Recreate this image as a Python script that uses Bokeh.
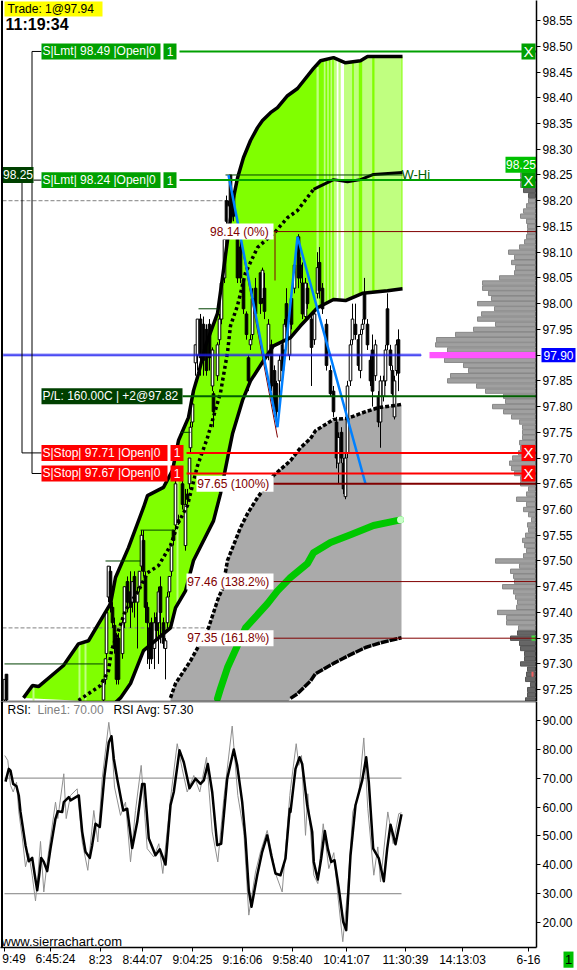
from bokeh.plotting import figure
from bokeh.layouts import column
from bokeh.models import Label, Span, FixedTicker, NumeralTickFormatter, LinearAxis, Range1d
from bokeh.core.properties import value
from bokeh.embed import file_html
from bokeh.resources import INLINE

# ---------- price panel data ----------
bar_x = [4,6,103,105,106,108,110,112,114,116,118,122,124,127,130,132,134,137,139,141,143,145,147,149,151,154,156,158,160,163,165,167,169,171,173,175,178,182,185,187,189,190,192,195,197,200,203,206,209,212,213,217,219,221,224,226,228,230,233,237,240,243,246,248,250,252,255,260,262,264,268,271,274,276,279,282,284,286,289,291,294,298,300,302,305,307,311,314,317,319,322,326,330,333,336,338,341,343,345,347,350,352,355,358,360,362,364,367,370,372,375,378,380,383,385,387,390,392,394,396,398]
bar_open = [97.23,97.28,97.23,97.27,97.32,97.43,97.48,97.41,97.375,97.35,97.35,97.32,97.38,97.46,97.44,97.42,97.47,97.42,97.45,97.49,97.54,97.47,97.41,97.37,97.38,97.33,97.39,97.38,97.45,97.38,97.33,97.38,97.44,97.48,97.56,97.57,97.58,97.65,97.53,97.63,97.65,97.72,97.77,97.885,97.90,97.97,97.96,97.95,97.96,97.84,97.825,97.86,97.93,97.97,98.05,98.20,98.155,98.25,98.21,98.13,98.11,98.045,97.98,97.895,97.92,97.94,98.03,98.06,98.01,98.03,97.90,97.92,97.87,97.845,97.85,97.92,97.91,98.00,97.90,98.01,98.03,98.13,98.075,98.04,97.975,98.03,97.97,97.93,98.02,98.08,98.03,97.96,97.87,97.83,97.77,97.69,97.75,97.69,97.625,97.71,97.85,97.93,97.96,97.93,97.87,97.95,98.02,97.96,97.89,97.91,97.86,97.82,97.77,97.82,97.85,97.99,97.91,97.87,97.78,97.87,97.93]
bar_close = [97.27,97.23,97.27,97.31,97.40,97.49,97.41,97.38,97.33,97.27,97.27,97.38,97.45,97.42,97.41,97.46,97.42,97.44,97.48,97.55,97.48,97.41,97.38,97.31,97.31,97.38,97.365,97.44,97.40,97.34,97.345,97.43,97.47,97.53,97.54,97.65,97.575,97.61,97.61,97.62,97.70,97.76,97.805,97.92,97.97,97.895,97.89,97.87,97.895,97.91,97.79,97.92,97.97,98.04,98.125,98.16,98.19,98.16,98.17,98.05,98.05,97.99,97.94,97.85,97.93,98.01,97.98,98.00,98.065,97.985,97.96,97.84,97.80,97.79,97.89,97.87,97.96,97.955,97.965,97.96,98.075,98.05,98.05,97.98,98.04,98.00,97.915,97.98,98.07,98.025,97.99,97.88,97.825,97.79,97.70,97.74,97.70,97.64,97.70,97.84,97.92,97.97,97.94,97.88,97.94,97.96,97.97,97.92,97.85,97.83,97.92,97.77,97.85,97.85,97.91,97.92,97.88,97.825,97.85,97.92,97.865]
bar_high = [97.27,97.28,97.27,97.31,97.40,97.49,97.49,97.42,97.39,97.36,97.36,97.39,97.45,97.47,97.48,97.46,97.48,97.45,97.48,97.56,97.56,97.48,97.42,97.38,97.39,97.40,97.40,97.45,97.47,97.39,97.35,97.44,97.47,97.53,97.56,97.66,97.59,97.66,97.64,97.64,97.70,97.77,97.81,97.92,97.97,97.98,97.975,97.96,97.97,97.915,97.83,97.925,97.98,98.04,98.13,98.21,98.20,98.25,98.215,98.14,98.12,98.05,97.985,97.90,97.94,98.03,98.05,98.06,98.07,98.06,97.97,97.93,97.88,97.85,97.90,97.93,97.97,98.03,97.97,98.02,98.08,98.135,98.09,98.08,98.05,98.04,97.98,97.985,98.10,98.11,98.04,97.97,97.88,97.84,97.78,97.75,97.76,97.70,97.71,97.85,97.93,98.00,98.00,97.94,97.95,97.97,98.05,97.97,97.90,97.94,97.93,97.83,97.86,97.86,97.92,98.02,97.92,97.88,97.86,97.93,97.95]
bar_low = [97.22,97.22,97.22,97.26,97.31,97.42,97.40,97.37,97.32,97.26,97.26,97.31,97.37,97.40,97.37,97.40,97.39,97.33,97.44,97.48,97.47,97.38,97.30,97.29,97.30,97.29,97.35,97.30,97.34,97.33,97.27,97.37,97.43,97.47,97.53,97.56,97.57,97.60,97.52,97.61,97.64,97.71,97.76,97.86,97.87,97.86,97.86,97.86,97.87,97.83,97.76,97.85,97.92,97.96,98.04,98.15,98.15,98.15,98.16,98.04,98.04,97.98,97.93,97.83,97.91,97.93,97.97,97.98,98.00,97.97,97.89,97.83,97.78,97.76,97.79,97.85,97.90,97.94,97.89,97.95,98.02,98.03,98.04,97.97,97.97,97.99,97.84,97.92,98.01,98.01,97.98,97.87,97.82,97.78,97.68,97.65,97.69,97.63,97.62,97.70,97.84,97.92,97.93,97.87,97.855,97.94,97.96,97.91,97.84,97.80,97.85,97.76,97.72,97.81,97.84,97.91,97.87,97.82,97.775,97.86,97.83]

upper_x = [23,32,38,63,78,88,110,115,128,143,147,163,172,178,188,193,198,205,217,222,227,233,237,243,250,257,262,270,277,287,297,313,320,333,345,360,367,402]
upper_y = [97.234,97.258,97.256,97.297,97.339,97.345,97.417,97.468,97.526,97.604,97.627,97.643,97.676,97.734,97.779,97.831,97.864,97.918,97.981,98.051,98.123,98.206,98.244,98.284,98.317,98.342,98.356,98.371,98.381,98.404,98.418,98.457,98.472,98.478,98.468,98.472,98.480,98.480]
lower_x = [115,120,130,143,170,175,185,193,213,220,228,232,242,250,263,273,290,300,317,333,345,362,387,402]
lower_y = [97.225,97.234,97.262,97.326,97.370,97.409,97.442,97.501,97.578,97.631,97.709,97.747,97.812,97.850,97.889,97.918,97.934,97.957,97.992,98.008,98.006,98.020,98.025,98.029]
center_x = [78,100,108,111,125,138,143,147,158,170,178,187,197,207,220,227,230,237,245,257,275,287,297,313,333,347,360,373,402]
center_y = [97.229,97.258,97.287,97.326,97.404,97.442,97.462,97.477,97.491,97.530,97.575,97.608,97.685,97.740,97.827,97.905,97.957,97.996,98.060,98.109,98.140,98.167,98.181,98.222,98.241,98.237,98.241,98.251,98.255]
gray_up_x = [170,175,190,208,218,222,227,240,247,257,273,290,300,310,315,333,347,365,378,401]
gray_up_y = [97.234,97.262,97.306,97.370,97.429,97.446,97.501,97.565,97.592,97.623,97.666,97.695,97.720,97.738,97.753,97.775,97.777,97.790,97.798,97.804]
gray_lo_x = [170,285,290,297,310,315,333,348,365,380,401]
gray_lo_y = [97.22,97.22,97.233,97.242,97.267,97.281,97.301,97.316,97.332,97.341,97.351]
mid_x = [217,220,227,245,267,277,290,307,313,330,350,373,400]
mid_y = [97.233,97.252,97.293,97.370,97.417,97.442,97.468,97.495,97.516,97.536,97.551,97.569,97.580]
swing_x = [228,277,297,365]
swing_y = [98.25,97.76,98.13,97.65]

stripe_l = [32,78,84,176,316,323.3,326.7,330,333.3,336,338.3,340,344,353.3,361.7,374]
stripe_r = [34,80,86,178,318.3,325,328.3,331.7,336,338.3,340,344,351.7,358.3,371.7,401]
stripe_t = [97.256,97.339,97.345,97.67,98.46,98.47,98.475,98.477,98.478,98.476,98.472,98.468,98.466,98.47,98.478,98.48]
stripe_b = [97.229,97.229,97.229,97.42,97.992,98.0,98.005,98.006,98.008,98.006,98.006,98.006,98.008,98.014,98.022,98.027]
stripe_c = ["#c0ff80","#c0ff80","#c0ff80","#c0ff80","#c0ff80","#c0ff80","#c0ff80","#c0ff80","#c0ff80","white","#c0ff80","white","#c0ff80","#c0ff80","#c0ff80","#c0ff80"]

# weekly/pivot step lines
step_x0 = [4,105,140,180,198,225]
step_x1 = [103,140,173,190,217,402]
step_p = [97.30,97.50,97.56,97.75,97.99,98.25]

vol_levels = [round(98.25 - i * 0.01, 2) for i in range(103)]
vol_sizes = [15,15,15,12,7,7,9,12,15,9,8,8,9,11,16,27,21,24,20,21,36,53,53,47,44,58,41,54,58,40,62,80,99,100,88,
             90,91,72,67,85,88,59,50,32,30,43,32,24,16,13,13,13,16,15,17,23,26,24,21,15,15,7,9,19,9,12,7,4,8,7,10,13,11,9,12,40,16,25,22,21,33,22,20,18,19,38,29,29,17,
             18,25,16,15,11,11,15,8,9,10,5,8,8,10]

price_ticks = [97.25,97.30,97.35,97.40,97.45,97.50,97.55,97.60,97.65,97.70,97.75,97.80,97.85,97.90,97.95,98.00,98.05,98.10,98.15,98.20,98.25,98.30,98.35,98.40,98.45,98.50,98.55]

# ---------- RSI panel data ----------
rsi_x = [4.3,7.3,10,12.7,16,18.3,21.7,25,28.3,31.7,35,37.7,40,43.3,46.7,55,57.3,63.3,65.7,70,76.7,81.7,87.3,93.3,97.3,101.7,108.3,111.7,114,120,125,130,135,140.7,146.7,153.3,158.3,162.3,170,176.7,181.7,186.7,193.3,199.3,206,211.7,217.3,223.3,231.7,237.3,243.3,248.3,255,260,266.7,271.7,275,281.7,289.3,
         290,295.7,298.3,301,305,307.3,311.7,313.3,317.3,322.7,328.3,333.3,337.3,342.3,347.3,352.3,358.3,363.3,367.3,373.3,377.3,380,387.3,392.7,398.3,401]
rsi_y = [77.8,76.1,67.5,65.2,68.6,58.3,49.6,39.3,43.9,36.4,27.5,37.5,48.1,30.6,41.0,61.7,56.0,71.5,56.0,64.0,66.3,47.9,38.1,58.8,47.9,69.8,89.3,79.6,66.9,57.1,61.7,41.0,58.8,74.4,45.6,42.7,47.3,37.0,62.9,81.9,73.2,65.2,70.9,65.2,77.2,51.4,41.0,62.9,88.0,64.0,51.4,22.6,37.5,44.5,51.9,43.3,37.0,30.6,64.0,
         66.3,81.9,74.4,77.8,50.2,64.6,43.3,36.4,33.5,54.2,38.7,44.2,29.5,13.4,31.8,58.3,64.6,83.9,59.4,36.4,46.2,34.1,58.3,47.3,57.7,58.0]
avg_x = [5,8.3,10,12.7,16,18.3,20,25,28.3,31.7,34.3,36.7,38.7,40.7,43.3,46.7,50,55,57.3,61.7,63.3,68.3,70,78.3,81.7,85,89.3,91.7,95,99.3,104,108.3,111,113.3,116.7,122.7,126.7,131.7,136.7,141.7,144,148.3,155,159.3,165,170,173.3,179,183.3,189,195,200,203.3,207.3,211.7,216.7,220.7,226.7,233.3,236.7,241.7,245,248.3,251,256.7,261.7,266.7,270.7,275,280,285,289.3,
         290,295,299,301.7,306.7,311.7,313.3,317.3,320.7,324.3,327.3,330.7,334,338.3,342.7,345.7,350,355,361.7,365.7,368.3,372.7,378.3,383.3,386.7,390,395,401]
avg_y = [68.8,73.2,72.6,68.0,67.2,64.0,58.3,46.8,41.2,42.4,36.4,31.2,36.4,42.4,41.0,37.8,45.6,56.0,58.5,58.3,61.7,63.4,62.3,64.0,51.4,44.5,42.4,46.8,54.2,53.1,70.9,82.4,84.5,76.7,69.8,58.8,59.4,45.8,54.8,68.0,68.0,49.1,43.3,45.4,40.1,60.6,65.2,79.6,75.5,66.5,69.8,68.0,69.2,74.9,65.2,46.8,47.3,69.8,79.9,74.4,61.7,49.1,31.2,25.5,36.4,44.5,50.2,43.3,37.0,36.4,42.2,59.4,
         58.3,73.2,77.2,74.9,60.6,51.4,41.0,34.9,42.2,51.7,45.6,41.0,41.6,31.8,20.3,17.4,43.3,60.6,69.2,77.2,68.6,45.6,42.2,34.3,45.6,53.9,47.1,57.5]
rsi_ticks = [20,30,40,50,60,70,80,90]
rsi_levels = [70,30]

# time axis slots and labels
time_ticks = [4,50,100,142,192,242,292,346,405,462,528]
time_labels = ["9:49","6:45:24","8:23","8:44:07","9:04:25","9:16:06","9:58:40","10:41:07","11:30:39","14:13:03","6-16"]

assert len(bar_x)==len(bar_open)==len(bar_close)==len(bar_high)==len(bar_low), (len(bar_x),len(bar_open),len(bar_close),len(bar_high),len(bar_low))
assert len(upper_x)==len(upper_y) and len(lower_x)==len(lower_y) and len(center_x)==len(center_y)
assert len(gray_up_x)==len(gray_up_y) and len(gray_lo_x)==len(gray_lo_y) and len(mid_x)==len(mid_y)
assert len(rsi_x)==len(rsi_y), (len(rsi_x),len(rsi_y))
assert len(avg_x)==len(avg_y), (len(avg_x),len(avg_y))
assert len(vol_levels)==len(vol_sizes), len(vol_sizes)

FONT = "Liberation Sans"
X0, X1 = 0, 536
W = 577

def make_fig(h, yr, border_bottom=0):
    f = figure(width=W, height=h, x_range=Range1d(X0, X1), y_range=Range1d(*yr),
               output_backend="svg", toolbar_location=None, x_axis_location=None, y_axis_location="right",
               min_border_left=0, min_border_right=41, min_border_top=0, min_border_bottom=border_bottom)
    f.outline_line_color = None
    f.grid.visible = False
    f.background_fill_color = "white"
    ax = f.yaxis[0]
    ax.axis_line_color = "black"
    ax.axis_line_width = 1.5
    ax.major_tick_in = 0
    ax.major_tick_out = 4
    ax.minor_tick_line_color = None
    ax.major_tick_line_color = "black"
    ax.major_label_standoff = 2
    ax.major_label_text_font = FONT
    ax.major_label_text_font_size = "12px"
    ax.major_label_text_color = "black"
    ax.formatter = NumeralTickFormatter(format="0.00")
    f.add_layout(Span(location=1.5, dimension="height", line_color="black", line_width=2))
    return f

def lab(f, x, y, text, color="black", size="12px", align="left", style="normal", font=FONT, bg=None):
    f.add_layout(Label(x=x, y=y, x_units="data", y_units="data", text=text, text_color=color,
                       text_font_size=size, text_align=align, text_baseline="middle",
                       text_font=font, text_font_style=style,
                       background_fill_color=bg))

def margin_text(f, x, y, text, color="black", size="12px"):
    # overlay-level glyphs are not clipped to the frame, so these reach into the axis margins
    f.text([x], [y], text=[text], text_color=color, text_font=value(FONT), text_font_size=value(size),
           text_align="center", text_baseline="middle", level="overlay")

# ---------- price panel ----------
p = make_fig(701, (97.227, 98.589))
p.yaxis[0].ticker = FixedTicker(ticks=price_ticks)

# bands
p.patch(upper_x + lower_x[::-1], upper_y + lower_y[::-1], fill_color="#80ff00", line_color=None)
p.quad(left=stripe_l, right=stripe_r, top=stripe_t, bottom=stripe_b, fill_color=stripe_c, line_color=None)
p.patch(gray_up_x + gray_lo_x[::-1], gray_up_y + gray_lo_y[::-1], fill_color="#aaaaaa", line_color=None)

# dashed levels
p.line([2, 228], [98.20, 98.20], line_color="#808080", line_dash="4 2", line_width=1)
p.line([2, 206], [97.37, 97.37], line_color="#808080", line_dash="4 2", line_width=1)

# candles
is_up = [c > o for o, c in zip(bar_open, bar_close)]
p.segment(bar_x, bar_low, bar_x, bar_high, line_color="black", line_width=1)
p.vbar(x=bar_x, width=2.6, top=[max(o, c) for o, c in zip(bar_open, bar_close)],
       bottom=[min(o, c) for o, c in zip(bar_open, bar_close)],
       fill_color=["white" if u else "black" for u in is_up], line_color="black", line_width=1)

# envelope curves
p.line(upper_x, upper_y, line_color="black", line_width=3.5)
p.line(lower_x, lower_y, line_color="black", line_width=3.5)
p.line(center_x[:24], center_y[:24], line_color="black", line_width=3.5, line_dash="3 3")
p.line(center_x[23:], center_y[23:], line_color="black", line_width=3)
p.line(gray_up_x, gray_up_y, line_color="black", line_width=3.5, line_dash="4 2")
p.line(gray_lo_x[2:], gray_lo_y[2:], line_color="black", line_width=3.5, line_dash="8 1")
p.line(mid_x, mid_y, line_color="#00c800", line_width=7, line_cap="round", line_join="round")
p.scatter([mid_x[-1]], [mid_y[-1]], size=7, marker="circle", fill_color="#c8ffc8", line_color=None)

# volume profile
for dark, fc, lc in ((False, "#a0a0a0", "#888888"), (True, "#666666", "#555555")):
    ys = [v for v in vol_levels if (v <= 97.365 or (98.205 <= v <= 98.225)) == dark]
    ws = [s for v, s in zip(vol_levels, vol_sizes) if (v <= 97.365 or (98.205 <= v <= 98.225)) == dark]
    p.hbar(y=ys, height=0.0085, left=[535 - s for s in ws], right=535, fill_color=fc, line_color=lc, line_width=1)
p.hbar(y=[97.90], height=0.012, left=535 - 106, right=535, fill_color="#ff55ff", line_color=None)
p.quad(left=[531], right=[535], top=[97.355], bottom=[97.345], fill_color="#40e040", line_color=None)
p.quad(left=[531], right=[533], top=[97.285], bottom=[97.275], fill_color="#f06060", line_color=None)

# pivot steps
p.segment(step_x0, step_p, step_x1, step_p, line_color="#004000", line_width=1)

# swing lines
p.line([274.5, 274.5], [98.14, 98.045], line_color="#800000", line_width=1)
p.line(swing_x[:2], [98.25, 97.74], line_color="#800000", line_width=1)
p.line(swing_x, swing_y, line_color="#0080ff", line_width=2.5)

# current price
p.line([3, 421], [97.90, 97.90], line_color="#2020f0", line_width=1)
p.line([3, 421], [97.90, 97.90], line_color="#2020f0", line_width=3, line_dash="1 1")

# horizontal trade/fib lines
p.segment([179, 179], [98.49, 98.24], [536, 536], [98.49, 98.24], line_color="#00a000", line_width=2)
p.segment([186, 186], [97.71, 97.67], [536, 536], [97.71, 97.67], line_color="#ff0000", line_width=2)
p.segment([182], [97.82], [536], [97.82], line_color="#006000", line_width=2)
p.segment([273, 273, 273], [98.14, 97.46, 97.35], [536, 536, 536], [98.14, 97.46, 97.35], line_color="#800000", line_width=1)
p.segment([273], [97.65], [536], [97.65], line_color="#800000", line_width=2)

# order brackets
p.line([41, 31.5, 31.5, 41], [98.49, 98.49, 97.67, 97.67], line_color="black", line_width=1)
p.line([33, 41], [98.24, 98.24], line_color="black", line_width=1)
p.line([21.5, 21.5, 41], [98.235, 97.71, 97.71], line_color="black", line_width=1)

H = 0.0155
def box(x0, x1, price, color, text, tcolor="white", align="left", size="12px"):
    p.quad(left=[x0], right=[x1], top=[price + H], bottom=[price - H], fill_color=color, line_color=None)
    if align == "left":
        lab(p, x0 + 1, price, text, tcolor, size)
    else:
        lab(p, (x0 + x1) / 2, price, text, tcolor, size, "center")

for price, txt in ((98.49, "S|Lmt| 98.49 |Open|0"), (98.24, "S|Lmt| 98.24 |Open|0")):
    box(41, 160, price, "#00a000", txt)
    box(163, 176, price, "#00a000", "1", align="center")
    box(521, 535, price, "#00a000", "X", align="center", size="15px")
for price, txt in ((97.71, "S|Stop| 97.71 |Open|0"), (97.67, "S|Stop| 97.67 |Open|0")):
    box(41, 167, price, "#ff0000", txt)
    box(170, 183, price, "#ff0000", "1", align="center")
    box(521, 535, price, "#ff0000", "X", align="center", size="15px")
box(41, 182, 97.82, "#004000", "P/L: 160.00C | +2@97.82")
box(2, 33, 98.25, "#004000", "98.25", align="center")
box(505, 536, 98.27, "#00c000", "98.25", align="center")

# fib labels
for x0, price, txt in ((208, 98.14, "98.14  (0%)"), (196, 97.65, "97.65  (100%)"),
                       (186, 97.46, "97.46  (138.2%)"), (186, 97.35, "97.35  (161.8%)")):
    box(x0, 273, price, "white", txt, "#800000", align="center")

lab(p, 401, 98.25, "W-Hi", "#006000", "13px")

# header
p.quad(left=[4], right=[102], top=[98.587], bottom=[98.558], fill_color="#ffff00", line_color=None)
lab(p, 7, 98.572, "Trade: 1@97.94", "black", "12px")
lab(p, 5, 98.542, "11:19:34", "black", "16px", style="bold")

# blue last-price tag on the axis
p.quad(left=[541], right=[575], top=[97.914], bottom=[97.886], fill_color="#0000ff", line_color=None, level="overlay")
margin_text(p, 558, 97.90, "97.90", "white")

# ---------- RSI panel ----------
r = make_fig(269, (11.4, 96.5), border_bottom=23)
r.yaxis[0].ticker = FixedTicker(ticks=rsi_ticks)
bottom_axis = LinearAxis(ticker=FixedTicker(ticks=time_ticks),
                         major_label_overrides={t: ("" if t in (4, 50) else l) for t, l in zip(time_ticks, time_labels)})
bottom_axis.axis_line_color = "black"
bottom_axis.axis_line_width = 1.5
bottom_axis.major_tick_in = 0
bottom_axis.major_tick_out = 4
bottom_axis.minor_tick_line_color = None
bottom_axis.major_label_standoff = 1
bottom_axis.major_label_text_font = FONT
bottom_axis.major_label_text_font_size = "12px"
bottom_axis.major_label_text_color = "black"
r.add_layout(bottom_axis, "below")

r.add_layout(Span(location=96.5, dimension="width", line_color="black", line_width=1.5))
p.add_layout(Span(location=97.227, dimension="width", line_color="black", line_width=1.5))

r.segment([4, 4], rsi_levels, [401, 401], rsi_levels, line_color="#808080", line_width=1)
r.line(rsi_x, rsi_y, line_color="#909090", line_width=1)
r.line(avg_x, avg_y, line_color="black", line_width=2.5, line_join="round")

lab(r, 7, 93.7, "RSI:", "black", "12px")
lab(r, 37, 93.7, "Line1: 70.00", "#808080", "12px")
lab(r, 113, 93.7, "RSI Avg: 57.30", "black", "12px")
lab(r, 1, 13.4, "www.sierrachart.com", "black", "13px")
margin_text(r, 13.5, 7.4, time_labels[0])
margin_text(r, 55, 7.4, time_labels[1])
r.quad(left=[563], right=[573], top=[10.0], bottom=[4.4], fill_color="#00c000", line_color=None, level="overlay")
margin_text(r, 568, 7.2, "1", "black", "13px")

page = column(p, r, spacing=0)
open("out.html", "w").write(file_html(page, INLINE))
